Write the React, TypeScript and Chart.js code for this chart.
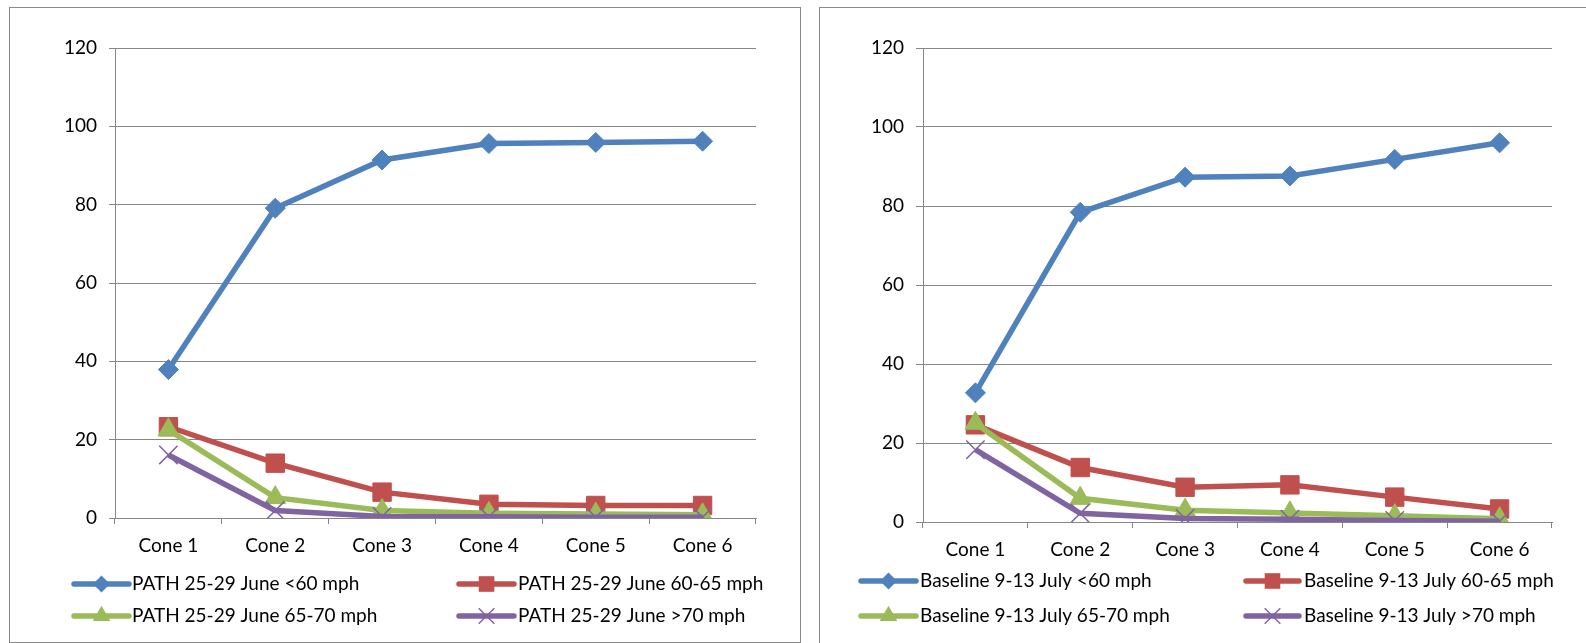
import React, { useEffect, useRef } from "react";
import { Chart, registerables } from "chart.js";

Chart.register(...registerables);

const categories = ["Cone 1", "Cone 2", "Cone 3", "Cone 4", "Cone 5", "Cone 6"];
const yTicks = [0, 20, 40, 60, 80, 100, 120];

const pathNames = [
  "PATH 25-29 June <60 mph",
  "PATH 25-29 June 60-65 mph",
  "PATH 25-29 June 65-70 mph",
  "PATH 25-29 June >70 mph",
];
const pathLt60 = [37.9, 79.1, 91.4, 95.6, 95.9, 96.2];
const path6065 = [23.3, 14.0, 6.6, 3.5, 3.2, 3.2];
const path6570 = [22.5, 5.2, 1.9, 1.2, 1.0, 0.8];
const pathGt70 = [16.1, 1.9, 0.4, 0.3, 0.2, 0.2];

const baseNames = [
  "Baseline 9-13 July <60 mph",
  "Baseline 9-13 July 60-65 mph",
  "Baseline 9-13 July 65-70 mph",
  "Baseline 9-13 July >70 mph",
];
const baseLt60 = [32.7, 78.4, 87.3, 87.6, 91.8, 96.0];
const base6065 = [24.6, 13.8, 8.8, 9.4, 6.3, 3.3];
const base6570 = [25.0, 6.0, 3.0, 2.3, 1.6, 0.8];
const baseGt70 = [18.3, 2.2, 0.9, 0.7, 0.4, 0.2];

const colors = ["#4F81BD", "#C0504D", "#9BBB59", "#8064A2"];
const pointStyles = ["rectRot", "rect", "triangle", "crossRot"];
const pointRadii = [10, 13, 12, 13];
const FONT = "Lato";
const FONT_SIZE = 19;
const GRID = "#868686";

function drawMarker(ctx: CanvasRenderingContext2D, style: string, x: number, y: number, r: number, color: string) {
  ctx.save();
  ctx.fillStyle = color;
  ctx.strokeStyle = color;
  ctx.beginPath();
  if (style === "rectRot") {
    ctx.moveTo(x - r, y);
    ctx.lineTo(x, y - r);
    ctx.lineTo(x + r, y);
    ctx.lineTo(x, y + r);
    ctx.closePath();
    ctx.fill();
  } else if (style === "rect") {
    const s = Math.SQRT1_2 * r;
    ctx.rect(x - s, y - s, 2 * s, 2 * s);
    ctx.fill();
  } else if (style === "triangle") {
    const a = (r * 3) / Math.sqrt(3);
    const h = (a * Math.sqrt(3)) / 2;
    ctx.moveTo(x - a / 2, y + h / 3);
    ctx.lineTo(x + a / 2, y + h / 3);
    ctx.lineTo(x, y - (2 * h) / 3);
    ctx.closePath();
    ctx.fill();
  } else {
    const o = Math.SQRT1_2 * r;
    ctx.lineWidth = 1.5;
    ctx.moveTo(x - o, y - o);
    ctx.lineTo(x + o, y + o);
    ctx.moveTo(x - o, y + o);
    ctx.lineTo(x + o, y - o);
    ctx.stroke();
  }
  ctx.restore();
}

type Geo = {
  left: number;
  top: number;
  width: number;
  height: number;
  padding: { top: number; right: number; bottom: number; left: number };
  yWidth: number;
  xHeight: number;
  yTickLen: number;
  legendCols: { x0: number; x1: number; tx: number }[];
  legendRows: number[];
};

function LineChart({ names, series, geo }: { names: string[]; series: number[][]; geo: Geo }) {
  const ref = useRef<HTMLCanvasElement | null>(null);
  useEffect(() => {
    if (!ref.current) return;
    const legendPlugin = {
      id: "customLegend",
      afterDraw(chart: any) {
        const ctx = chart.ctx as CanvasRenderingContext2D;
        names.forEach((name, i) => {
          const col = geo.legendCols[i % 2];
          const y = geo.legendRows[Math.floor(i / 2)];
          ctx.save();
          ctx.strokeStyle = colors[i];
          ctx.lineWidth = 5.5;
          ctx.lineCap = "round";
          ctx.beginPath();
          ctx.moveTo(col.x0, y);
          ctx.lineTo(col.x1, y);
          ctx.stroke();
          ctx.restore();
          drawMarker(ctx, pointStyles[i], (col.x0 + col.x1) / 2, y, pointRadii[i] * 0.85, colors[i]);
          ctx.save();
          ctx.fillStyle = "#000";
          ctx.font = `${FONT_SIZE}px ${FONT}`;
          ctx.textBaseline = "middle";
          ctx.textAlign = "left";
          ctx.fillText(name, col.tx, y);
          ctx.restore();
        });
      },
    };
    const chart = new Chart(ref.current, {
      type: "line",
      data: {
        labels: categories,
        datasets: series.map((d, i) => ({
          label: names[i],
          data: d,
          borderColor: colors[i],
          backgroundColor: colors[i],
          borderWidth: 5.5,
          pointStyle: pointStyles[i] as any,
          pointRadius: pointRadii[i],
          pointBackgroundColor: colors[i],
          pointBorderColor: colors[i],
          pointBorderWidth: i === 3 ? 1.5 : 1,
          tension: 0,
          order: 3 - i,
          fill: false,
        })),
      },
      options: {
        responsive: false,
        animation: false,
        devicePixelRatio: 1,
        layout: { padding: geo.padding },
        plugins: { legend: { display: false }, tooltip: { enabled: false } },
        scales: {
          x: {
            type: "category",
            offset: true,
            afterFit: (s: any) => {
              s.height = geo.xHeight;
            },
            grid: {
              offset: true,
              drawOnChartArea: false,
              drawTicks: true,
              tickLength: 6,
              color: GRID,
            },
            border: { display: true, color: GRID, width: 1 },
            ticks: {
              color: "#000",
              padding: 10,
              font: { family: FONT, size: FONT_SIZE },
              maxRotation: 0,
            },
          },
          y: {
            min: 0,
            max: 120,
            afterFit: (s: any) => {
              s.width = geo.yWidth;
            },
            afterBuildTicks: (s: any) => {
              s.ticks = yTicks.map((v) => ({ value: v }));
            },
            grid: {
              color: GRID,
              lineWidth: 1,
              drawTicks: true,
              tickLength: geo.yTickLen,
            },
            border: { display: true, color: GRID, width: 1 },
            ticks: {
              color: "#000",
              padding: 12,
              font: { family: FONT, size: FONT_SIZE },
            },
          },
        },
      },
      plugins: [legendPlugin],
    } as any);
    return () => chart.destroy();
  }, []);
  return (
    <canvas
      ref={ref}
      width={geo.width}
      height={geo.height}
      style={{ position: "absolute", left: geo.left, top: geo.top, width: geo.width, height: geo.height }}
    />
  );
}

const leftGeo: Geo = {
  left: 10,
  top: 8,
  width: 789,
  height: 633,
  padding: { top: 40, right: 43, bottom: 83, left: 0 },
  yWidth: 105,
  xHeight: 40,
  yTickLen: 6,
  legendCols: [
    { x0: 64, x1: 119, tx: 122 },
    { x0: 449, x1: 504, tx: 508 },
  ],
  legendRows: [576, 608],
};

const rightGeo: Geo = {
  left: 820,
  top: 8,
  width: 766,
  height: 635,
  padding: { top: 40, right: 34, bottom: 81, left: 0 },
  yWidth: 103,
  xHeight: 40,
  yTickLen: 7,
  legendCols: [
    { x0: 41, x1: 96, tx: 100 },
    { x0: 426, x1: 479, tx: 484 },
  ],
  legendRows: [573, 608],
};

export default function App() {
  return (
    <div
      style={{
        position: "absolute",
        left: 0,
        top: 0,
        width: 1586,
        height: 643,
        overflow: "hidden",
        background: "#fff",
      }}
    >
      <div
        style={{
          position: "absolute",
          left: 9,
          top: 7,
          width: 790,
          height: 634,
          border: "1px solid #8a8a8a",
        }}
      />
      <div
        style={{
          position: "absolute",
          left: 819,
          top: 7,
          width: 900,
          height: 800,
          border: "1px solid #8a8a8a",
        }}
      />
      <LineChart names={pathNames} series={[pathLt60, path6065, path6570, pathGt70]} geo={leftGeo} />
      <LineChart names={baseNames} series={[baseLt60, base6065, base6570, baseGt70]} geo={rightGeo} />
    </div>
  );
}
